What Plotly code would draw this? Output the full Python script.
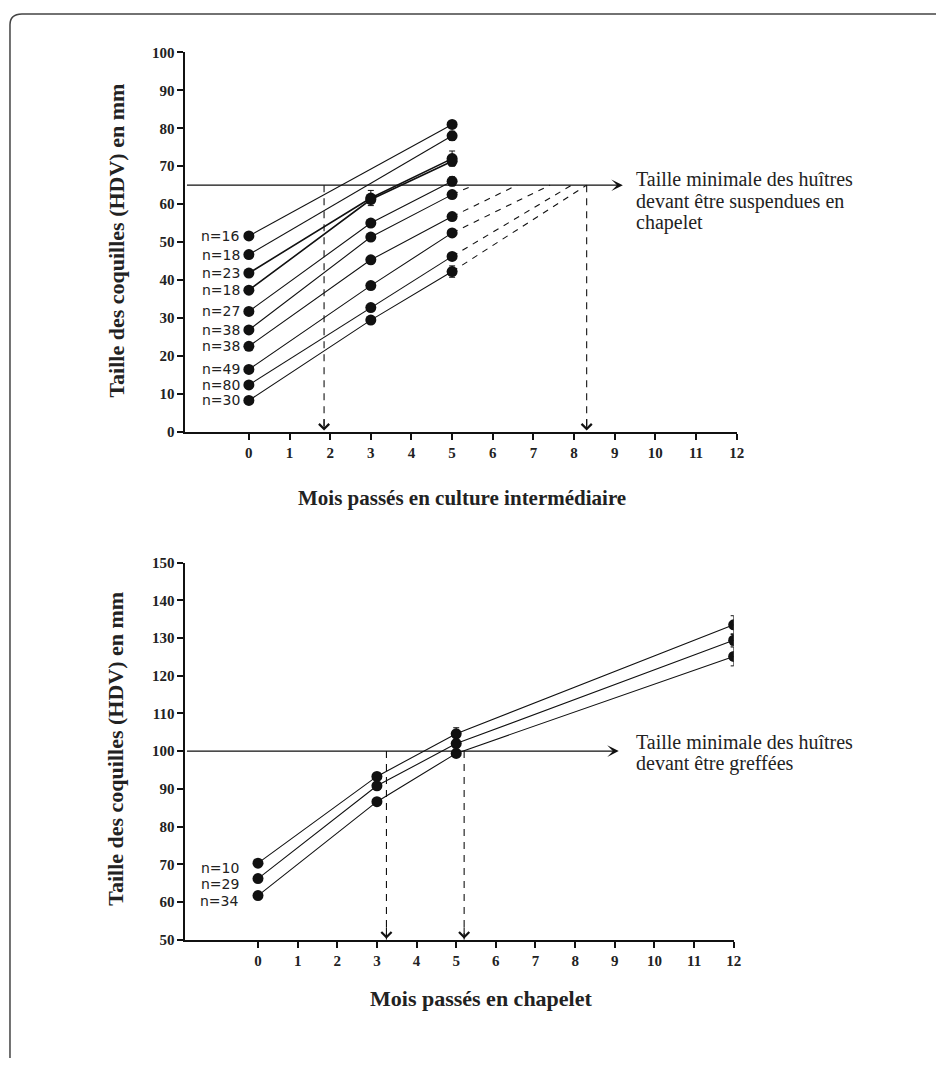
import plotly.graph_objects as go

# page body has an 8px margin: the figure starts at (8, 8) of the window
PAGE_W, PAGE_H = 944, 1066
OFF = 8
W, H = PAGE_W - 2 * OFF, PAGE_H - 2 * OFF

# ---------------- Top chart data ----------------
top_labels = ["n=16", "n=18", "n=23", "n=18", "n=27", "n=38", "n=38", "n=49", "n=80", "n=30"]
top_month0 = [51.6, 46.7, 41.8, 37.3, 31.7, 26.8, 22.5, 16.4, 12.3, 8.2]
top_month3 = [None, None, 61.6, 61.2, 55.0, 51.3, 45.3, 38.5, 32.7, 29.4]
top_month5 = [81.0, 78.0, 72.0, 71.3, 66.0, 62.5, 56.7, 52.4, 46.2, 42.2]
top_err3 = [0, 0, 2.0, 0, 0, 0, 0, 0, 0, 0]
top_err5 = [0.8, 1.2, 2.0, 0, 1.2, 0, 0, 0, 0, 1.5]
top_threshold = 65
top_proj_series = [5, 6, 7, 8, 9]
top_proj_months = [5.54, 6.60, 7.41, 7.94, 8.31]
top_vlines = [1.85, 8.31]
top_xticks = list(range(0, 13))
top_yticks = list(range(0, 101, 10))

# ---------------- Bottom chart data ----------------
bot_months = [0, 3, 5, 12]
bot_labels = ["n=10", "n=29", "n=34"]
bot_s1 = [70.3, 93.3, 104.6, 133.5]
bot_s2 = [66.2, 90.8, 102.0, 129.4]
bot_s3 = [61.7, 86.6, 99.4, 125.1]
bot_err1 = [0, 0, 1.6, 2.4]
bot_err2 = [0, 0, 1.2, 1.5]
bot_err3 = [0, 0, 1.0, 2.5]
bot_threshold = 100
bot_vlines = [3.24, 5.2]
bot_xticks = list(range(0, 13))
bot_yticks = list(range(50, 151, 10))

TOP_TEXT_LINES = ["Taille minimale des huîtres", "devant être suspendues en", "chapelet"]
BOT_TEXT_LINES = ["Taille minimale des huîtres", "devant être greffées"]
YTITLE = "Taille des coquilles (HDV) en mm"
TOP_XTITLE = "Mois passés en culture intermédiaire"
BOT_XTITLE = "Mois passés en chapelet"


def px(x):
    return (x - OFF) / W


def py(y):
    return 1 - (y - OFF) / H


TOP_XRANGE = [-1.56, 12]
BOT_XRANGE = [-1.83, 12]

SERIF = "Liberation Serif"
SANS = "DejaVu Sans"
INK = "#111111"
TXT = "#222222"

fig = go.Figure()

MARK = dict(symbol="circle", size=11, color=INK)


def add_series(xs, ys, errs, xa, ya, lw=1.1):
    fig.add_trace(go.Scatter(
        x=xs, y=ys, xaxis=xa, yaxis=ya, mode="lines+markers",
        line=dict(color=INK, width=lw), marker=MARK,
        error_y=dict(type="data", array=errs, visible=True, color=INK,
                     thickness=1, width=3),
        showlegend=False, hoverinfo="skip"))


# ---- top series
for i in range(len(top_labels)):
    if top_month3[i] is None:
        xs = [0, 5]
        ys = [top_month0[i], top_month5[i]]
        es = [0, top_err5[i]]
    else:
        xs = [0, 3, 5]
        ys = [top_month0[i], top_month3[i], top_month5[i]]
        es = [0, top_err3[i], top_err5[i]]
    add_series(xs, ys, es, "x", "y", lw=1.6 if i in (2, 3) else 1.1)

# projections (dashed)
for s, m in zip(top_proj_series, top_proj_months):
    fig.add_trace(go.Scatter(
        x=[5, m], y=[top_month5[s], top_threshold], xaxis="x", yaxis="y",
        mode="lines", line=dict(color=INK, width=1.1, dash="6px,6px"),
        showlegend=False, hoverinfo="skip"))

# vertical dashed lines top
for m in top_vlines:
    fig.add_trace(go.Scatter(
        x=[m, m], y=[top_threshold, 0], xaxis="x", yaxis="y",
        mode="lines", line=dict(color=INK, width=1.1, dash="7px,6px"),
        showlegend=False, hoverinfo="skip"))

# ---- bottom series
for ys, es in zip([bot_s1, bot_s2, bot_s3], [bot_err1, bot_err2, bot_err3]):
    add_series(bot_months, ys, es, "x2", "y2")

for m in bot_vlines:
    fig.add_trace(go.Scatter(
        x=[m, m], y=[bot_threshold, 50], xaxis="x2", yaxis="y2",
        mode="lines", line=dict(color=INK, width=1.1, dash="7px,6px"),
        showlegend=False, hoverinfo="skip"))

annotations = []

# n labels
for lab, v in zip(top_labels, top_month0):
    annotations.append(dict(x=0, y=v, xref="x", yref="y", text=lab,
                            showarrow=False, xanchor="right", xshift=-7,
                            font=dict(family=SANS, size=14, color=TXT)))
for lab, v in zip(bot_labels, [bot_s1[0], bot_s2[0], bot_s3[0]]):
    annotations.append(dict(x=0, y=v, xref="x2", yref="y2", text=lab,
                            showarrow=False, xanchor="right", xshift=-17,
                            yshift=-5,
                            font=dict(family=SANS, size=14, color=TXT)))

# threshold arrows
annotations.append(dict(x=9.2, y=top_threshold, xref="x", yref="y",
                        ax=TOP_XRANGE[0], ay=top_threshold, axref="x", ayref="y",
                        text="", showarrow=True, arrowhead=3, arrowsize=1.6,
                        arrowwidth=1.2, arrowcolor=INK, standoff=0))
annotations.append(dict(x=9.1, y=bot_threshold, xref="x2", yref="y2",
                        ax=BOT_XRANGE[0], ay=bot_threshold, axref="x2", ayref="y2",
                        text="", showarrow=True, arrowhead=3, arrowsize=1.6,
                        arrowwidth=1.2, arrowcolor=INK, standoff=0))

# vertical arrowheads
for m in top_vlines:
    annotations.append(dict(x=m, y=0, xref="x", yref="y", ax=0, ay=-14,
                            text="", showarrow=True, arrowhead=4, arrowsize=1.8,
                            arrowwidth=1.1, arrowcolor=INK, standoff=1))
for m in bot_vlines:
    annotations.append(dict(x=m, y=50, xref="x2", yref="y2", ax=0, ay=-14,
                            text="", showarrow=True, arrowhead=4, arrowsize=1.8,
                            arrowwidth=1.1, arrowcolor=INK, standoff=1))

# threshold texts (one annotation per line for tight line spacing)
NOTE_FONT = dict(family=SERIF, size=20, color=TXT)
for k, line in enumerate(TOP_TEXT_LINES):
    annotations.append(dict(x=px(639), y=py(174 + 22 * k), xref="paper",
                            yref="paper", text=line, showarrow=False,
                            xanchor="left", yanchor="middle", font=NOTE_FONT))
for k, line in enumerate(BOT_TEXT_LINES):
    annotations.append(dict(x=px(639), y=py(745 + 22 * k), xref="paper",
                            yref="paper", text=line, showarrow=False,
                            xanchor="left", yanchor="middle", font=NOTE_FONT))

# axis titles
TITLE_FONT = dict(family=SERIF, size=22, color=TXT, weight="bold")
annotations.append(dict(x=px(117), y=py(236), xref="paper", yref="paper",
                        text=YTITLE, textangle=-90, showarrow=False,
                        xanchor="center", yanchor="middle", font=TITLE_FONT))
annotations.append(dict(x=px(117), y=py(752), xref="paper", yref="paper",
                        text=YTITLE, textangle=-90, showarrow=False,
                        xanchor="center", yanchor="middle", font=TITLE_FONT))
XT_FONT = dict(family=SERIF, size=21, color=TXT, weight="bold")
annotations.append(dict(x=px(466), y=py(497), xref="paper", yref="paper",
                        text=TOP_XTITLE, showarrow=False, xanchor="center",
                        yanchor="middle", font=XT_FONT))
annotations.append(dict(x=px(486), y=py(1006), xref="paper", yref="paper",
                        text=BOT_XTITLE, showarrow=False, xanchor="center",
                        yanchor="middle", font=dict(XT_FONT, size=22)))

TICKFONT = dict(family=SERIF, size=15, color=TXT, weight="bold")
AX = dict(showgrid=False, zeroline=False, showline=True, linecolor=INK,
          linewidth=2, ticks="outside", ticklen=6, tickwidth=2, tickcolor=INK,
          tickfont=TICKFONT, fixedrange=True)

# frame (left + top border with rounded corner)
frame_path = (f"M {px(10)},{py(1070)} L {px(10)},{py(17)} "
              f"Q {px(10)},{py(6)} {px(22)},{py(6)} L {px(950)},{py(6)}")

fig.update_layout(
    width=W, height=H, autosize=False,
    margin=dict(l=0, r=0, t=0, b=0),
    paper_bgcolor="white", plot_bgcolor="white",
    showlegend=False,
    xaxis=dict(AX, domain=[px(187), px(743)], range=TOP_XRANGE,
               tickvals=top_xticks, anchor="y"),
    yaxis=dict(AX, domain=[py(430), py(45)], range=[0, 100],
               tickvals=top_yticks, anchor="x"),
    xaxis2=dict(AX, domain=[px(187), px(740)], range=BOT_XRANGE,
                tickvals=bot_xticks, anchor="y2"),
    yaxis2=dict(AX, domain=[py(946), py(563)], range=[50, 150],
                tickvals=bot_yticks, anchor="x2"),
    annotations=annotations,
    shapes=[dict(type="path", path=frame_path, xref="paper", yref="paper",
                 line=dict(color="#444444", width=1.5))],
)

fig.write_html("out.html", config={"displayModeBar": False})
